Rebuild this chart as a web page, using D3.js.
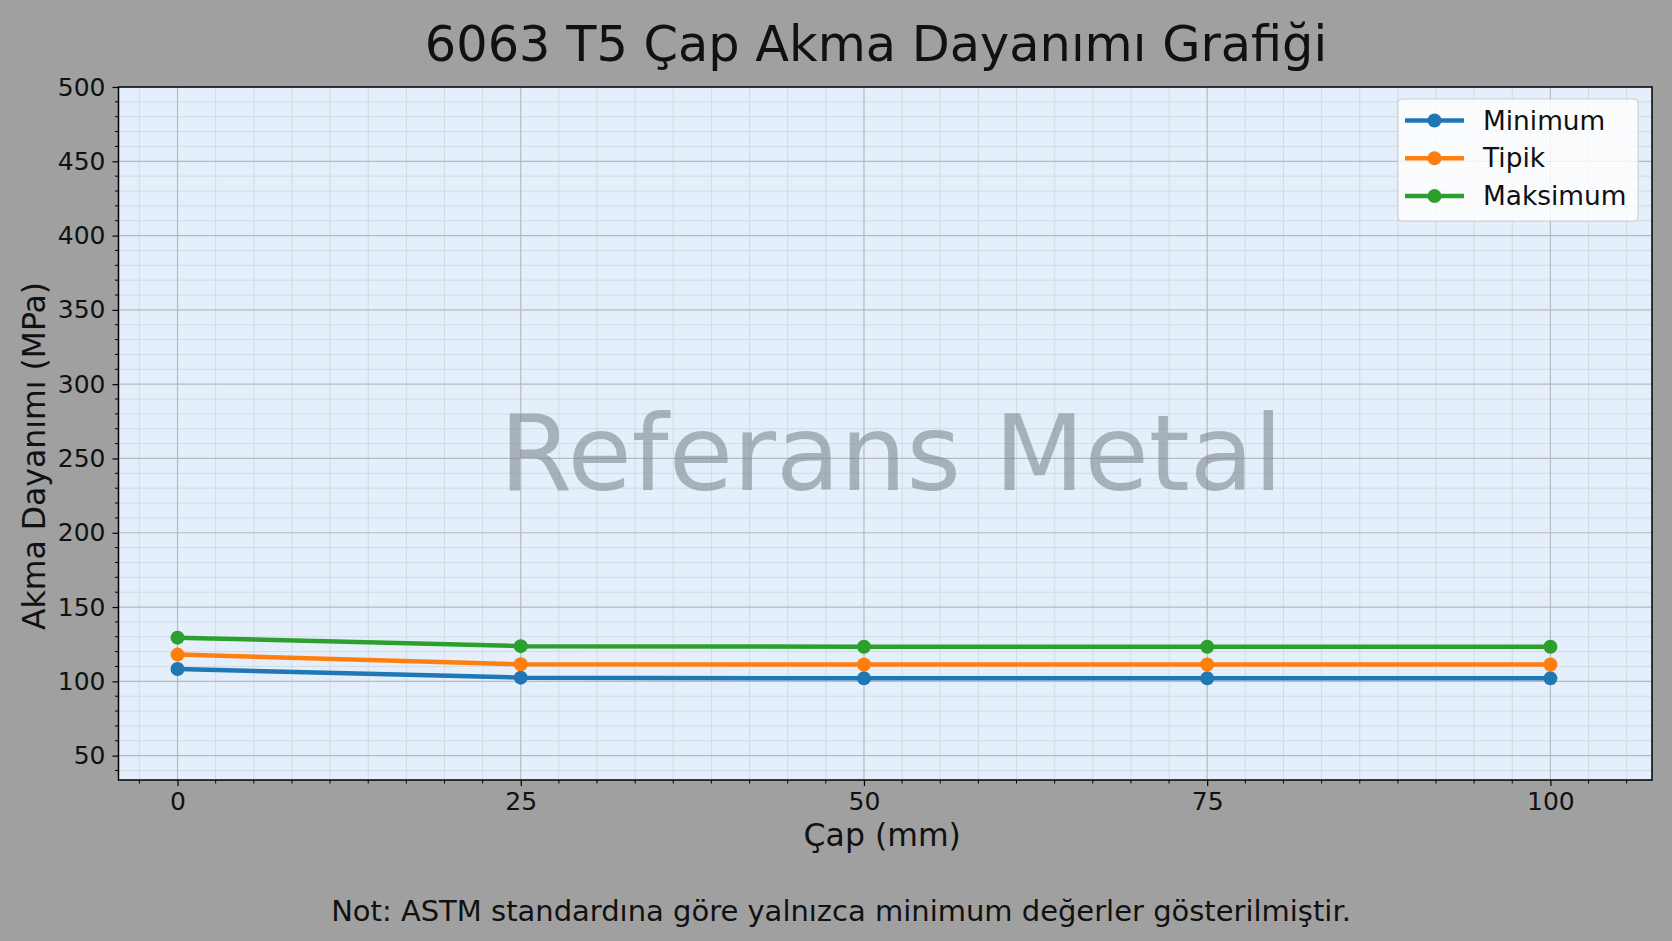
<!DOCTYPE html>
<html><head><meta charset="utf-8">
<script src="https://cdn.jsdelivr.net/npm/d3@7"></script>
<style>
html,body{margin:0;padding:0;background:#a0a0a0;}
svg{display:block;font-family:"DejaVu Sans",sans-serif;}
</style></head>
<body>
<svg id="chart" width="1672" height="941"></svg>
<script>
const diameters = [0, 25, 50, 75, 100];
const minimumValues = [108.3, 102.5, 102, 102, 102];
const typicalValues = [118, 111.5, 111.3, 111.3, 111.3];
const maximumValues = [129.4, 123.7, 123.3, 123.3, 123.3];
const seriesNames = ["Minimum", "Tipik", "Maksimum"];
const xTicks = [0, 25, 50, 75, 100];
const yTicks = [50, 100, 150, 200, 250, 300, 350, 400, 450, 500];
const titleText = "6063 T5 Çap Akma Dayanımı Grafiği";
const xLabelText = "Çap (mm)";
const yLabelText = "Akma Dayanımı (MPa)";
const watermarkText = "Referans Metal";
const noteText = "Not: ASTM standardına göre yalnızca minimum değerler gösterilmiştir.";

const colors = ["#1f77b4", "#ff7f0e", "#2ca02c"];
const series = [minimumValues, typicalValues, maximumValues];

const svg = d3.select("#chart");
const W = 1672, H = 941;
const m = {left: 118.5, right: 1652, top: 87, bottom: 780};

const x = d3.scaleLinear().domain([-4.3, 107.4]).range([m.left, m.right]);
const y = d3.scaleLinear().domain([33.6, 500]).range([m.bottom, m.top]);

svg.append("rect").attr("width", W).attr("height", H).attr("fill", "#a0a0a0");

// plot background
svg.append("rect").attr("x", m.left).attr("y", m.top)
  .attr("width", m.right - m.left).attr("height", m.bottom - m.top)
  .attr("fill", "#e4effb");

// minor ticks values
const xMinor = d3.range(-2, 41).map(i => i * 25 / 9).filter(v => v > -4.3 && v < 107.4 && Math.abs(v / 25 - Math.round(v / 25)) > 1e-6);
const yMinor = d3.range(40, 500, 10).filter(v => v % 50 !== 0);

const g = svg.append("g");
// minor grid
g.selectAll(".vminor").data(xMinor).join("line")
  .attr("x1", d => x(d)).attr("x2", d => x(d)).attr("y1", m.top).attr("y2", m.bottom)
  .attr("stroke", "#cbd5df").attr("stroke-width", 0.8);
g.selectAll(".hminor").data(yMinor).join("line")
  .attr("y1", d => y(d)).attr("y2", d => y(d)).attr("x1", m.left).attr("x2", m.right)
  .attr("stroke", "#cbd5df").attr("stroke-width", 0.8);
// major grid
g.selectAll(".vmajor").data(xTicks).join("line")
  .attr("x1", d => x(d)).attr("x2", d => x(d)).attr("y1", m.top).attr("y2", m.bottom)
  .attr("stroke", "#b5babf").attr("stroke-width", 1.2);
g.selectAll(".hmajor").data(yTicks).join("line")
  .attr("y1", d => y(d)).attr("y2", d => y(d)).attr("x1", m.left).attr("x2", m.right)
  .attr("stroke", "#b5babf").attr("stroke-width", 1.2);

// watermark
svg.append("text").attr("x", (m.left + m.right) / 2 + 6).attr("y", 490)
  .attr("text-anchor", "middle").attr("font-size", 104.6)
  .attr("fill", "#7f8790").attr("fill-opacity", 0.6).text(watermarkText);

// lines
const line = d3.line().x((d, i) => x(diameters[i])).y(d => y(d));
series.forEach((vals, k) => {
  svg.append("path").datum(vals).attr("d", line)
    .attr("fill", "none").attr("stroke", colors[k]).attr("stroke-width", 4.5)
    .attr("stroke-linejoin", "round").attr("stroke-linecap", "round");
  svg.selectAll(".pt" + k).data(vals).join("circle")
    .attr("cx", (d, i) => x(diameters[i])).attr("cy", d => y(d)).attr("r", 7)
    .attr("fill", colors[k]);
});

// axes
const xAxis = d3.axisBottom(x).tickValues(xTicks).tickSize(6).tickPadding(6).tickFormat(d3.format("d"));
const yAxis = d3.axisLeft(y).tickValues(yTicks).tickSize(6).tickPadding(7).tickFormat(d3.format("d"));
const gx = svg.append("g").attr("transform", `translate(0,${m.bottom})`).call(xAxis);
const gy = svg.append("g").attr("transform", `translate(${m.left},0)`).call(yAxis);
[gx, gy].forEach(a => {
  a.select(".domain").remove();
  a.selectAll("line").attr("stroke", "#000").attr("stroke-width", 1.2);
  a.selectAll("text").attr("font-size", 25).attr("fill", "#111").attr("font-family", "DejaVu Sans");
});
gx.selectAll(".minor").data(xMinor).join("line").attr("class", "minor")
  .attr("x1", d => x(d)).attr("x2", d => x(d)).attr("y1", 0).attr("y2", 3.5)
  .attr("stroke", "#000").attr("stroke-width", 1);
gy.selectAll(".minor").data(yMinor.filter(v => v > 33.6)).join("line").attr("class", "minor")
  .attr("y1", d => y(d)).attr("y2", d => y(d)).attr("x1", 0).attr("x2", -3.5)
  .attr("stroke", "#000").attr("stroke-width", 1);

// frame
svg.append("rect").attr("x", m.left).attr("y", m.top)
  .attr("width", m.right - m.left).attr("height", m.bottom - m.top)
  .attr("fill", "none").attr("stroke", "#000").attr("stroke-width", 1.5);

// legend
const lg = svg.append("g");
lg.append("rect").attr("x", 1398).attr("y", 99).attr("width", 240).attr("height", 122)
  .attr("rx", 4).attr("fill", "#ffffff").attr("fill-opacity", 0.8)
  .attr("stroke", "#cccccc").attr("stroke-width", 1);
seriesNames.forEach((name, k) => {
  const yy = 120.5 + k * 37.8;
  lg.append("line").attr("x1", 1405).attr("x2", 1464).attr("y1", yy).attr("y2", yy)
    .attr("stroke", colors[k]).attr("stroke-width", 4.5);
  lg.append("circle").attr("cx", 1434.5).attr("cy", yy).attr("r", 7).attr("fill", colors[k]);
  lg.append("text").attr("x", 1483).attr("y", yy + 9).attr("font-size", 26.4)
    .attr("fill", "#111").text(name);
});

// title & labels
svg.append("text").attr("x", 876).attr("y", 61).attr("text-anchor", "middle")
  .attr("font-size", 49.4).attr("fill", "#111").text(titleText);
svg.append("text").attr("x", (m.left + m.right) / 2 - 3).attr("y", 846).attr("text-anchor", "middle")
  .attr("font-size", 31.5).attr("fill", "#111").text(xLabelText);
svg.append("text").attr("transform", `translate(45,456) rotate(-90)`).attr("text-anchor", "middle")
  .attr("font-size", 31.5).attr("fill", "#111").text(yLabelText);
const note = svg.append("text").attr("x", 841).attr("y", 921).attr("text-anchor", "middle")
  .attr("font-size", 27).attr("fill", "#111").text(noteText);
const nl = note.node().getComputedTextLength();
note.attr("font-size", 27 * 1020 / nl);
</script>
</body></html>
